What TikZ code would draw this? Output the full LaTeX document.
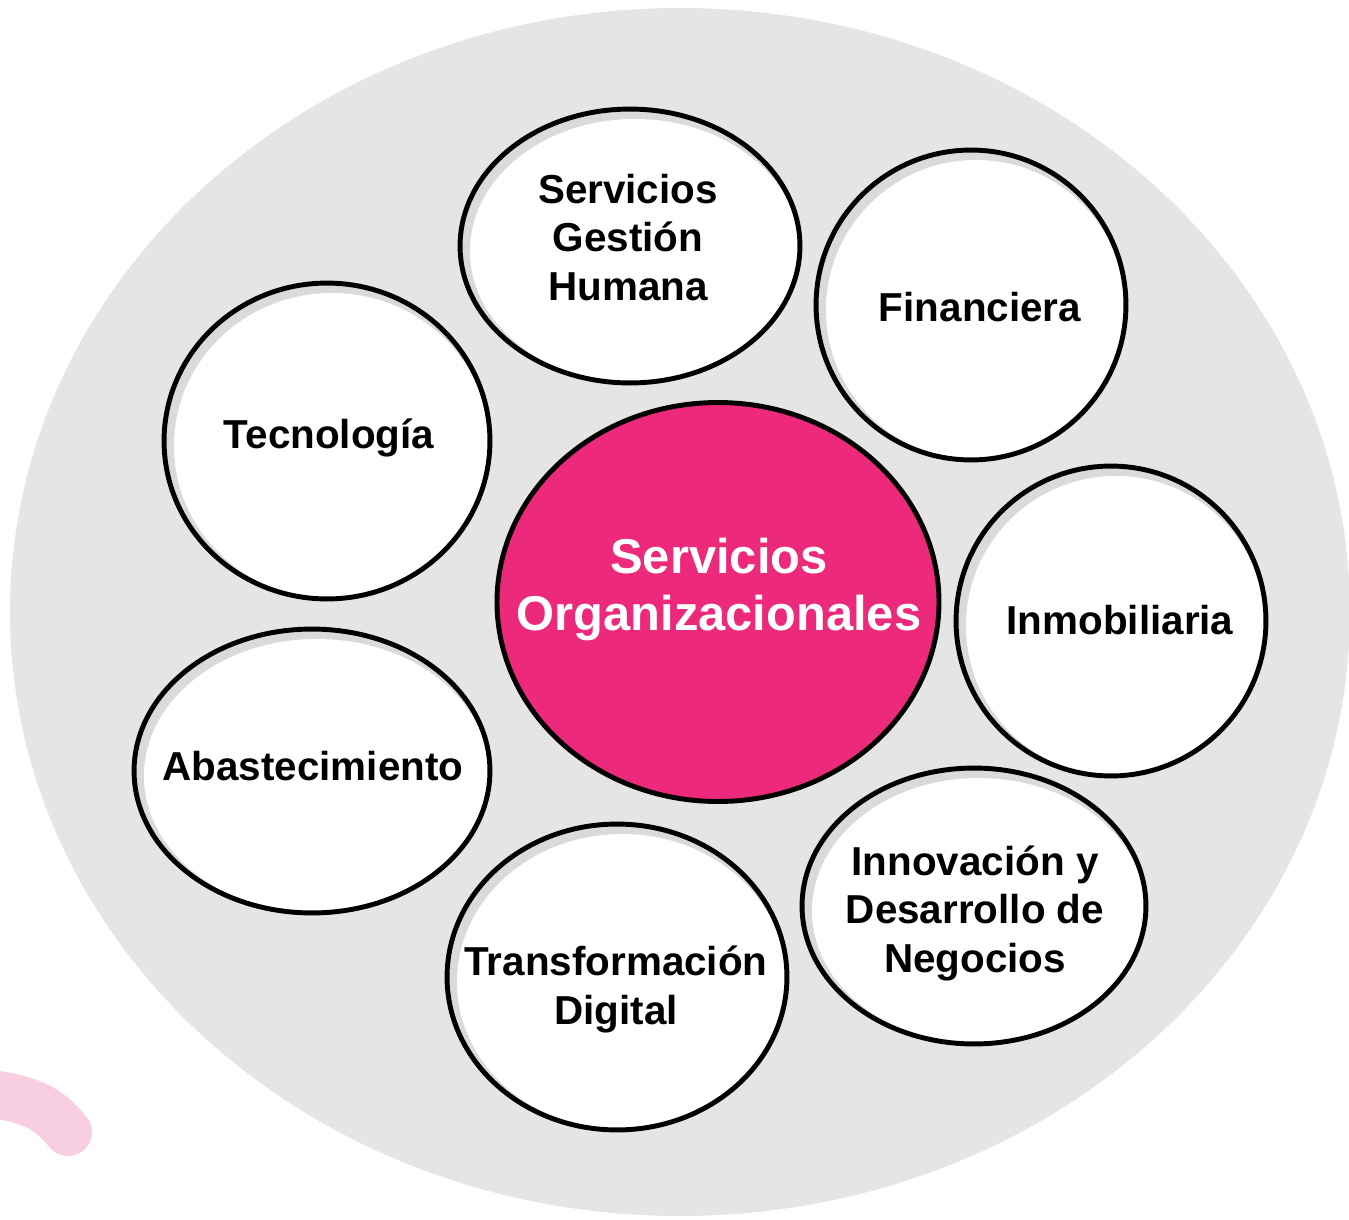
\documentclass[tikz,border=0pt]{standalone}
\usepackage{fontspec}
\setmainfont{Liberation Sans}
\usetikzlibrary{shapes.geometric}

\definecolor{bggrey}{HTML}{E5E5E5}
\definecolor{shadegrey}{HTML}{DADADA}
\definecolor{orgpink}{HTML}{EC297B}
\definecolor{softpink}{HTML}{F8CFE0}

\tikzset{
  ring/.style={ellipse, draw=black, line width=2.8pt, inner sep=0pt, outer sep=0pt},
  lbl/.style={font=\fontsize{23}{27.5}\selectfont\bfseries, align=center, text=black, inner sep=0pt},
  mainlbl/.style={font=\fontsize{27.8}{32.4}\selectfont\bfseries, align=center, text=white, inner sep=0pt}
}

% name, x, y, x radius, y radius
\newcommand{\bubble}[5]{%
  \fill[shadegrey] (#2,#3) ellipse [x radius=#4, y radius=#5];
  \fill[white] (#2+5,#3+5) ellipse [x radius=#4-5, y radius=#5-5];
  \node[ring, minimum width=#4*0.04cm, minimum height=#5*0.04cm] (#1) at (#2,#3) {};
}

\begin{document}
\begin{tikzpicture}[x=0.02cm,y=-0.02cm]
\useasboundingbox (0,0) rectangle (1349,1220);
\clip (0,0) rectangle (1349,1220);

% background
\fill[bggrey] (680,612) ellipse [x radius=670, y radius=604];
\draw[softpink, line width=27.3pt, line cap=round]
  (-40,1092) .. controls (30,1094) and (50,1110) .. (68,1132);

% bubbles
\bubble{gh}{630}{246}{170}{137}
\bubble{fin}{971}{305}{155}{155}
\bubble{tec}{327}{441}{163}{158}
\bubble{inm}{1111}{621}{155}{155}
\bubble{aba}{312}{771}{178}{142}
\bubble{ino}{974}{906}{172}{138}
\bubble{tra}{617}{977}{170}{153}
\node[ring, fill=orgpink, minimum width=442*0.02cm, minimum height=399*0.02cm] (org) at (718,602) {};

% texts (multi-line: base = last line)
\node[lbl, anchor=base] (ghL) at (628,300) {Servicios\\Gestión\\Humana};
\node[lbl, anchor=base] (finL) at (980,321) {Financiera};
\node[lbl, anchor=base] (tecL) at (329,448) {Tecnología};
\node[mainlbl, anchor=base] (orgL) at (719,630) {Servicios\\Organizacionales};
\node[lbl, anchor=base] (inmL) at (1120,634) {Inmobiliaria};
\node[lbl, anchor=base] (abaL) at (313,780) {Abastecimiento};
\node[lbl, anchor=base] (inoL) at (975,972) {Innovación y\\Desarrollo de\\Negocios};
\node[lbl, anchor=base] (traL) at (616,1024) {Transformación\\Digital};
\end{tikzpicture}
\end{document}
